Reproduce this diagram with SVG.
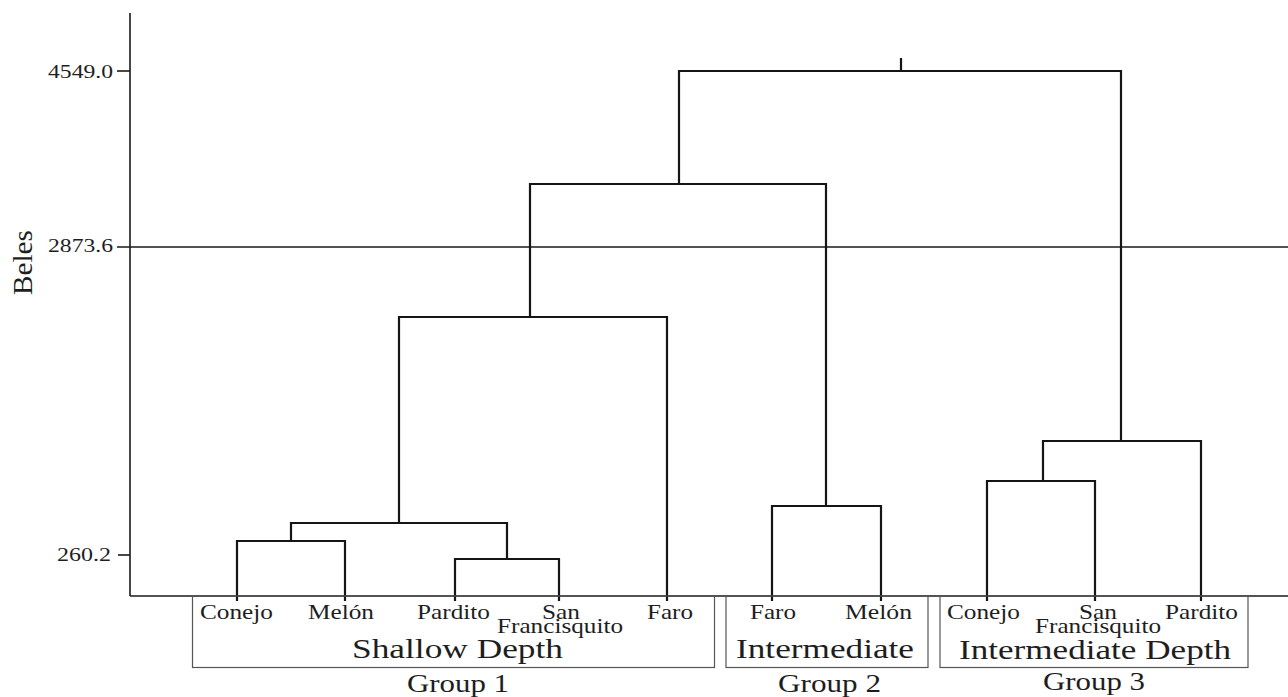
<svg xmlns="http://www.w3.org/2000/svg" width="1288" height="697" viewBox="0 0 1288 697">
<style>
.ax{stroke:#1a1a1a;stroke-width:1.6;fill:none}
.dn{stroke:#151515;stroke-width:2.2;fill:none;stroke-linejoin:miter;stroke-linecap:square}
.bx{stroke:#555;stroke-width:1.2;fill:none}
text{font-family:"Liberation Serif","Times New Roman",serif;fill:#1e1e1e}
.tk{font-size:18px}
.lf{font-size:21px}
.tt{font-size:28px}
.gp{font-size:26px}
</style>
<rect width="1288" height="697" fill="#fff"/>
<g id="axes">
<line class="ax" x1="130" y1="13" x2="130" y2="596"/>
<line class="ax" x1="130" y1="596" x2="1288" y2="596"/>
<line class="ax" x1="117" y1="71" x2="130" y2="71"/>
<line class="ax" x1="117" y1="247" x2="1288" y2="247"/>
<line class="ax" x1="118" y1="555" x2="130" y2="555"/>
<text class="tk" x="48" y="78" textLength="65" lengthAdjust="spacingAndGlyphs">4549.0</text>
<text class="tk" x="48" y="252" textLength="65" lengthAdjust="spacingAndGlyphs">2873.6</text>
<text class="tk" x="57" y="561" textLength="54" lengthAdjust="spacingAndGlyphs">260.2</text>
<text font-size="27" transform="translate(32,295) rotate(-90)" textLength="65" lengthAdjust="spacingAndGlyphs">Beles</text>
</g>
<g id="connectors">
<path class="dn" d="M901 59V71M679 184V71H1121V441"/>
<path class="dn" d="M530 317V184H826V506"/>
<path class="dn" d="M399 523V317H667V600"/>
<path class="dn" d="M291 541V523H507V559"/>
<path class="dn" d="M237 600V541H345V600"/>
<path class="dn" d="M455 600V559H559V600"/>
<path class="dn" d="M772 600V506H881V600"/>
<path class="dn" d="M1043 481V441H1201V600"/>
<path class="dn" d="M987 600V481H1095V600"/>
</g>
<g id="group1">
<rect class="bx" x="192.5" y="596" width="522" height="71.5"/>
<text class="lf" x="200" y="619" textLength="73" lengthAdjust="spacingAndGlyphs">Conejo</text>
<text class="lf" x="308" y="619" textLength="66" lengthAdjust="spacingAndGlyphs">Melón</text>
<text class="lf" x="417" y="619" textLength="73" lengthAdjust="spacingAndGlyphs">Pardito</text>
<text class="lf" x="542" y="619" textLength="38" lengthAdjust="spacingAndGlyphs">San</text>
<text class="lf" x="497" y="633" textLength="126" lengthAdjust="spacingAndGlyphs">Francisquito</text>
<text class="lf" x="647" y="619" textLength="46" lengthAdjust="spacingAndGlyphs">Faro</text>
<text class="tt" x="352" y="658" textLength="211" lengthAdjust="spacingAndGlyphs">Shallow Depth</text>
<text class="gp" x="407" y="692" textLength="102" lengthAdjust="spacingAndGlyphs">Group 1</text>
</g>
<g id="group2">
<rect class="bx" x="726" y="596" width="202" height="71.5"/>
<text class="lf" x="750" y="619" textLength="46" lengthAdjust="spacingAndGlyphs">Faro</text>
<text class="lf" x="845" y="619" textLength="67" lengthAdjust="spacingAndGlyphs">Melón</text>
<text class="tt" x="736" y="658" textLength="178" lengthAdjust="spacingAndGlyphs">Intermediate</text>
<text class="gp" x="778" y="692" textLength="103" lengthAdjust="spacingAndGlyphs">Group 2</text>
</g>
<g id="group3">
<rect class="bx" x="940" y="596" width="308" height="71.5"/>
<text class="lf" x="947" y="619" textLength="73" lengthAdjust="spacingAndGlyphs">Conejo</text>
<text class="lf" x="1079" y="619" textLength="38" lengthAdjust="spacingAndGlyphs">San</text>
<text class="lf" x="1035" y="633" textLength="126" lengthAdjust="spacingAndGlyphs">Francisquito</text>
<text class="lf" x="1165" y="619" textLength="73" lengthAdjust="spacingAndGlyphs">Pardito</text>
<text class="tt" x="959" y="659" textLength="272" lengthAdjust="spacingAndGlyphs">Intermediate Depth</text>
<text class="gp" x="1043" y="690" textLength="102" lengthAdjust="spacingAndGlyphs">Group 3</text>
</g>
</svg>
